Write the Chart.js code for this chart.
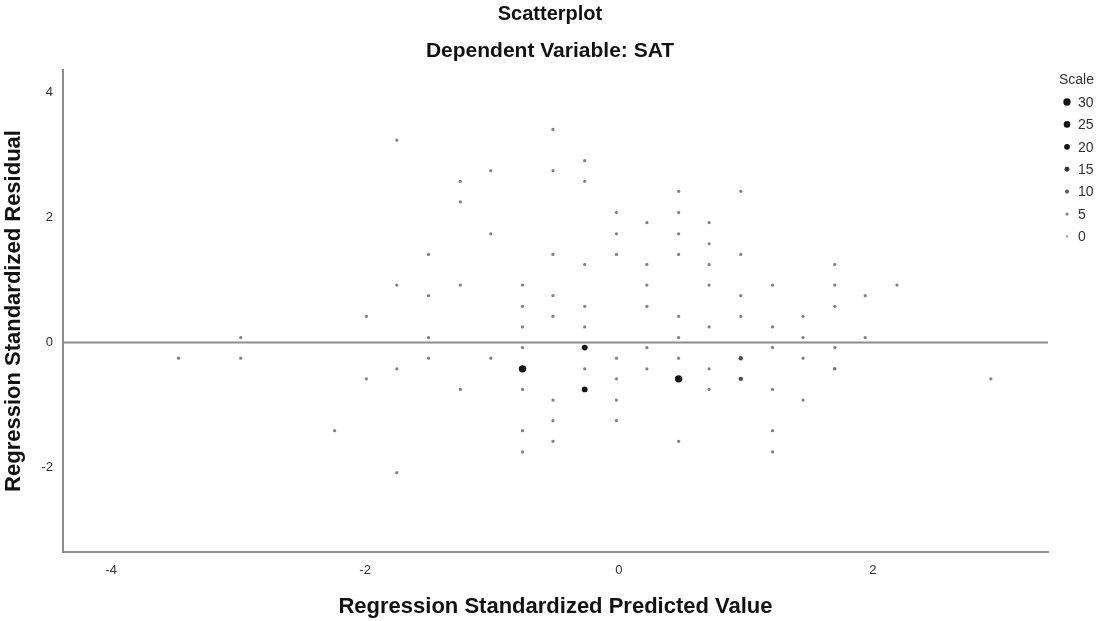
<!DOCTYPE html>
<html lang="en">
<head>
<meta charset="UTF-8">
<title>Scatterplot</title>
<script src="https://cdn.jsdelivr.net/npm/chart.js"></script>
<style>
    body { margin: 0; background: #fff; }
</style>
</head>
<body>
<canvas id="scatter" width="1100" height="621"></canvas>
<script>
// values, one entry per plotted dot (grouped by predicted-value column)
const predicted = [
    -3.47,
    -2.98, -2.98,
    -2.24,
    -1.99, -1.99,
    -1.75, -1.75, -1.75, -1.75,
    -1.50, -1.50, -1.50, -1.50,
    -1.25, -1.25, -1.25, -1.25,
    -1.01, -1.01, -1.01,
    -0.76, -0.76, -0.76, -0.76, -0.76, -0.76, -0.76, -0.76,
    -0.52, -0.52, -0.52, -0.52, -0.52, -0.52, -0.52, -0.52,
    -0.27, -0.27, -0.27, -0.27, -0.27, -0.27, -0.27, -0.27,
    -0.02, -0.02, -0.02, -0.02, -0.02, -0.02, -0.02,
    0.22, 0.22, 0.22, 0.22, 0.22, 0.22,
    0.47, 0.47, 0.47, 0.47, 0.47, 0.47, 0.47, 0.47, 0.47,
    0.71, 0.71, 0.71, 0.71, 0.71, 0.71, 0.71,
    0.96, 0.96, 0.96, 0.96, 0.96, 0.96,
    1.21, 1.21, 1.21, 1.21, 1.21, 1.21,
    1.45, 1.45, 1.45, 1.45,
    1.70, 1.70, 1.70, 1.70, 1.70,
    1.94, 1.94,
    2.19,
    2.93
];
const residual = [
    -0.25,
    0.08, -0.25,
    -1.41,
    0.42, -0.58,
    3.24, 0.92, -0.42, -2.08,
    1.41, 0.75, 0.08, -0.25,
    2.58, 2.25, 0.92, -0.75,
    2.75, 1.74, -0.25,
    0.92, 0.58, 0.25, -0.08, -0.42, -0.75, -1.41, -1.75,
    3.41, 2.75, 1.41, 0.75, 0.42, -0.92, -1.25, -1.58,
    2.91, 2.58, 1.25, 0.58, 0.25, -0.08, -0.42, -0.75,
    2.08, 1.74, 1.41, -0.25, -0.58, -0.92, -1.25,
    1.92, 1.25, 0.92, 0.58, -0.08, -0.42,
    2.42, 2.08, 1.74, 1.41, 0.42, 0.08, -0.25, -0.58, -1.58,
    1.92, 1.58, 1.25, 0.92, 0.25, -0.42, -0.75,
    2.42, 1.41, 0.75, 0.42, -0.25, -0.58,
    0.92, 0.25, -0.08, -0.75, -1.41, -1.75,
    0.42, 0.08, -0.25, -0.92,
    1.25, 0.92, 0.58, -0.08, -0.42,
    0.75, 0.08,
    0.92,
    -0.58
];
// overlap count per dot (drives size and darkness)
const scaleCount = [
    5,
    5, 5,
    5,
    5, 5,
    5, 5, 5, 5,
    5, 5, 5, 5,
    5, 5, 5, 5,
    5, 5, 5,
    5, 5, 5, 5, 30, 5, 5, 5,
    5, 5, 5, 5, 5, 5, 5, 5,
    5, 5, 5, 5, 5, 20, 5, 20,
    5, 5, 5, 5, 5, 5, 5,
    5, 5, 5, 5, 5, 5,
    5, 5, 5, 5, 5, 5, 5, 30, 5,
    5, 5, 5, 5, 5, 5, 5,
    5, 5, 5, 5, 12, 12,
    5, 5, 5, 5, 5, 5,
    5, 5, 5, 5,
    5, 5, 5, 5, 7,
    5, 5,
    5,
    5
];
const legendSizes = [30, 25, 20, 15, 10, 5, 0];

const xMin = -4.38, xMax = 3.38;
const yMin = -3.35, yMax = 4.36;
const zeroLineX = [xMin, xMax];
const zeroLineY = [0, 0];

const FONT = '"Liberation Sans", Arial, sans-serif';
Chart.defaults.font.family = FONT;

function dotRadius(c) {
    return 1.2 + c / 12;
}

function dotColor(c) {
    const g = Math.round(Math.max(20, 165 - c * 7.5));
    return `rgb(${g},${g},${g})`;
}

// size legend on the right ("Scale")
const sizeLegend = {
    id: 'sizeLegend',
    afterDraw(chart) {
        const ctx = chart.ctx;
        const left = chart.chartArea.right;
        ctx.save();
        ctx.font = '14px ' + FONT;
        ctx.fillStyle = '#333';
        ctx.textBaseline = 'middle';
        ctx.fillText('Scale', left + 11, 80);
        legendSizes.forEach((c, i) => {
            const y = 102 + i * 22.4;
            ctx.beginPath();
            ctx.fillStyle = dotColor(c);
            ctx.arc(left + 19, y, dotRadius(c), 0, Math.PI * 2);
            ctx.fill();
            ctx.fillStyle = '#333';
            ctx.fillText(String(c), left + 30, y + 1);
        });
        ctx.restore();
    }
};

const points = predicted.map((x, i) => ({ x: x, y: residual[i] }));

new Chart(document.getElementById('scatter'), {
    data: {
        datasets: [{
            type: 'line',
            data: zeroLineX.map((x, i) => ({ x: x, y: zeroLineY[i] })),
            borderColor: '#8c8c8c',
            borderWidth: 2,
            pointRadius: 0,
            yAxisID: 'y',
            order: 2
        }, {
            type: 'scatter',
            data: points,
            pointRadius: scaleCount.map(dotRadius),
            pointBackgroundColor: scaleCount.map(dotColor),
            pointBorderWidth: 0,
            yAxisID: 'y',
            order: 1
        }]
    },
    options: {
        responsive: false,
        animation: false,
        layout: { padding: 0 },
        plugins: {
            legend: { display: false },
            tooltip: { enabled: false },
            title: {
                display: true,
                text: 'Scatterplot',
                color: '#111',
                font: { size: 20, weight: 'bold' },
                padding: { top: 2, bottom: 13 }
            },
            subtitle: {
                display: true,
                text: 'Dependent Variable: SAT',
                color: '#111',
                font: { size: 21, weight: 'bold' },
                padding: { top: 0, bottom: 5.8 }
            }
        },
        scales: {
            x: {
                type: 'linear',
                position: 'bottom',
                min: xMin,
                max: xMax,
                afterFit(s) { s.height = 69; },
                ticks: { stepSize: 2, includeBounds: false, color: '#333', font: { size: 13 }, padding: 11 },
                grid: { display: false, drawTicks: false },
                border: { display: true, color: '#8c8c8c', width: 2 },
                title: {
                    display: true,
                    text: 'Regression Standardized Predicted Value',
                    color: '#111',
                    font: { size: 22, weight: 'bold' },
                    padding: { top: 0, bottom: 1 }
                }
            },
            y: {
                type: 'linear',
                position: 'left',
                min: yMin,
                max: yMax,
                afterFit(s) { s.width = 63; },
                ticks: { stepSize: 2, includeBounds: false, color: '#333', font: { size: 13 }, padding: 10 },
                grid: { display: false, drawTicks: false },
                border: { display: true, color: '#8c8c8c', width: 2 },
                title: {
                    display: true,
                    text: 'Regression Standardized Residual',
                    color: '#111',
                    font: { size: 22, weight: 'bold' },
                    padding: { top: 1, bottom: 0 }
                }
            },
            // empty axis that only reserves room for the size legend
            y2: {
                type: 'linear',
                position: 'right',
                afterFit(s) { s.width = 52; },
                ticks: { display: false },
                grid: { display: false, drawTicks: false },
                border: { display: false }
            }
        }
    },
    plugins: [sizeLegend]
});
</script>
</body>
</html>
